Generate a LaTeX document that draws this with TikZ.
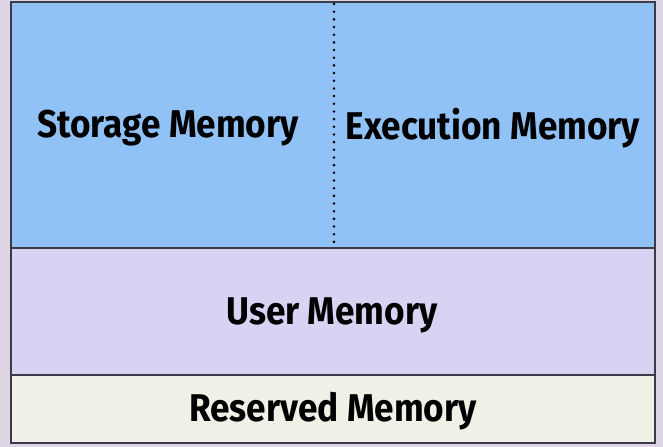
\documentclass[tikz,border=0pt]{standalone}
\usepackage{fontspec}
\newfontfamily\labelfont[FakeStretch=0.91]{Fira Sans}
\definecolor{pagebg}{HTML}{DDD5E4}
\definecolor{heapblue}{HTML}{90C2F5}
\definecolor{userpurple}{HTML}{D9D3F3}
\definecolor{reservedbeige}{HTML}{F0F0E6}
\definecolor{boxline}{HTML}{3A3A48}
\tikzset{
    region/.style={draw=boxline, line width=1.3pt},
    memlabel/.style={font=\labelfont\bfseries\fontsize{33}{36}\selectfont, text=black, inner sep=0pt}
}
\begin{document}
\begin{tikzpicture}[x=0.03cm, y=-0.03cm]
                    \fill[pagebg] (0, 0) rectangle (663, 447);

                    \coordinate (TL) at (11, 2);
                    \coordinate (ML) at (11, 248);
                    \coordinate (LL) at (11, 375);
                    \coordinate (BL) at (11, 443);
                    \coordinate (TR) at (655, 2);
                    \coordinate (MR) at (655, 248);
                    \coordinate (LR) at (655, 375);
                    \coordinate (BR) at (655, 443);

                    \coordinate (D0) at (334, 4);
                    \coordinate (D1) at (334, 244);

                    \filldraw[region, fill=heapblue]      (TL) rectangle (MR);
                    \filldraw[region, fill=userpurple]    (ML) rectangle (LR);
                    \filldraw[region, fill=reservedbeige] (LL) rectangle (BR);

                    \draw[black, line width=2.4pt, line cap=round, dash pattern=on 0pt off 6.55pt] (D0) -- (D1);

                    \node[memlabel] (storage)   at (168, 128) {Storage Memory};
                    \node[memlabel] (execution) at (493, 128) {Execution Memory};
                    \node[memlabel] (user)      at (332, 315) {User Memory};
                    \node[memlabel] (reserved)  at (333, 411) {Reserved Memory};

                \end{tikzpicture}
\end{document}
